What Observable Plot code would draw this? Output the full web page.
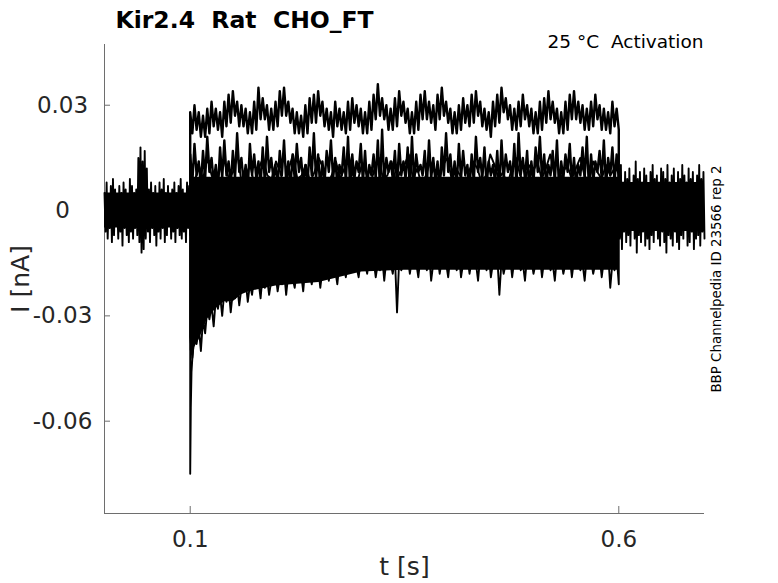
<!DOCTYPE html>
<html>
<head>
<meta charset="utf-8">
<script src="https://cdn.jsdelivr.net/npm/d3@7"></script>
<script src="https://cdn.jsdelivr.net/npm/@observablehq/plot@0.6"></script>
<style>
  html, body { margin: 0; padding: 0; background: #ffffff; }
  #chart { width: 778px; height: 583px; }
</style>
</head>
<body>
<div id="chart"></div>
<script>
// ---------------- Data (currents in pA, converted to nA when plotted) ----------------
const titleText = "Kir2.4  Rat  CHO_FT";
const subtitleText = "25 °C  Activation";
const sideText = "BBP Channelpedia ID 23566 rep 2";
const xLabel = "t [s]";
const yLabel = "I [nA]";

const xDomain = [0, 0.7];
const yDomain = [-0.0863, 0.0473];
const xTickValues = [0.1, 0.6];
const xTickLabels = ["0.1", "0.6"];
const yTickValues = [0.03, 0, -0.03, -0.06];
const yTickLabels = ["0.03", "0", "-0.03", "-0.06"];

const stepStart = 0.1;
const stepEnd = 0.6;
const holdingPA = 0;

// dense core of the overlapping sweeps (upper / lower envelope)
const coreT    = [0, 0.1, 0.1, 0.105, 0.11, 0.115, 0.12, 0.13, 0.14, 0.15, 0.16, 0.17, 0.2, 0.25, 0.3, 0.35, 0.4, 0.5, 0.6, 0.6, 0.7];
const coreHiPA = [5, 5, 9.5, 9.5, 9.5, 9.5, 9.5, 9.5, 9.5, 9.5, 9.5, 9.5, 9.5, 9.5, 9.5, 9.5, 9.5, 9.5, 9.5, 8, 8];
const coreLoPA = [-5, -5, -40, -39, -37, -34, -31, -28, -26, -26, -24, -23, -21.5, -20.5, -17.5, -17, -17, -17, -17, -6, -6];

// pre-step (0 – 0.1 s): alternating upper / lower noise samples of the baseline sweeps
const preUpperPA = [5,8,4,7,9,6,3,7,5,8,6,4,9,7,5,6,15,18,14,17,12,6,8,5,7,4,8,6,9,5,7,4,6,8,5,7,9,6,4,8,7];
const preLowerPA = [-6,-8,-5,-9,-7,-4,-8,-6,-10,-5,-7,-9,-6,-8,-5,-7,-9,-12,-11,-8,-6,-9,-5,-7,-10,-6,-8,-5,-9,-7,-4,-8,-6,-9,-5,-7,-8,-6,-9,-5,-7];

// step (0.1 – 0.6 s): largest sweep, alternating upper / lower noise samples
const topEvenPA = [28,30,28,27,29,31,29,28,31,33,34,31,30,29,28,31,35,32,30,29,31,34,35,31,29,28,27,30,32,33,34,31,29,28,31,29,28,31,32,30,29,28,31,33,36,32,30,29,32,34,31,29,28,31,33,34,31,30,33,35,31,29,28,30,32,30,33,34,31,29,28,31,33,35,32,30,29,31,33,30,29,28,31,32,34,31,29,28,31,33,34,31,30,29,31,33,30,29,28,31,29];
const topOddPA  = [22,23,21,21,22,24,23,21,24,25,27,24,24,22,22,23,26,26,23,23,24,27,27,25,22,22,21,22,25,25,27,24,23,21,24,23,22,23,25,24,22,22,23,26,27,26,23,23,24,27,25,22,22,23,26,26,25,23,26,27,25,22,22,23,25,24,25,27,24,23,21,24,25,28,26,23,23,24,26,24,22,22,23,25,26,25,22,22,23,26,26,25,23,23,24,26,23,23,22,24,23];

// second sweep
const highEvenPA = [16,19,14,17,21,15,13,18,20,14,17,22,15,13,19,16,14,18,21,15,13,17,20,14,16,19,15,13,18,22,16,14,17,20,15,13,18,21,16,14,19,17,13,16,20,23,15,14,17,19,14,18,21,16,13,17,20,15,14,18,22,16,14,19,17,13,16,21,15,18,14,13,17,20,16,14,19,22,15,17,14,18,21,16,13,17,20,14,16,19,15,13,18,21,16,14,17,20,15,18,16];
const highOddPA  = [8,10,7,9,11,8,6,9,10,7,9,11,8,6,10,9,7,8,11,9,7,10,8,6,9,11,8,7,10,9,6,8,11,9,7,10,8,6,9,11,8,7,10,9,6,8,11,9,7,10,9,6,8,11,10,7,9,8,6,10,11,8,7,9,10,6,8,11,9,7,10,8,6,9,11,8,7,10,9,6,8,11,9,7,10,8,6,9,11,8,7,10,9,6,8,11,9,7,10,8,9];

// third sweep (near the top of the dense core)
const sweepMidPA = [11,8,13,9,15,10,7,12,14,9,11,16,8,10,13,7,12,15,10,9,14,11,6,12,16,9,10,13,8,11,15,12,7,10,14,9,12,16,10,8,13,11,7,12,15,9,10,14,8,11,13,16,9,12,7,10,14,11,8,13,15,9,12,10,6,11,14,12,8,10,16,13,9,11,7,12,15,10,8,13,11,14,9,12,16,10,7,11,13,9,12,15,10,8,14,11,9,13,10,12,11];

// most inward sweep: upper / lower noise samples
const lowEvenPA = [-36,-35,-33,-31,-28,-27,-25,-24,-23,-22,-23,
  -21,-22,-20,-21,-19,-20,-18,-19,-20,-18,
  -19,-17,-18,-19,-17,-18,-16,-18,-17,-16,
  -17,-15,-16,-17,-15,-16,-14,-15,-16,-14,
  -15,-13,-14,-15,-13,-14,-15,-13,-14,-15,
  -13,-14,-15,-13,-14,-12,-15,-13,-14,-15,
  -13,-14,-12,-15,-13,-14,-15,-13,-14,-12,
  -15,-13,-14,-15,-13,-14,-12,-15,-13,-14,
  -15,-13,-14,-12,-15,-13,-14,-15,-13,-14,
  -12,-15,-13,-14,-15,-13,-14,-12,-15,-13];
const lowOddPA = [-42,-38,-40,-35,-31,-33,-28,-30,-26,-29,-25,
  -27,-23,-26,-24,-21,-25,-22,-24,-20,-23,
  -21,-24,-19,-22,-20,-23,-18,-21,-19,-22,
  -17,-20,-18,-21,-16,-19,-17,-15,-19,-16,
  -18,-15,-19,-17,-20,-16,-18,-29,-17,-15,
  -18,-16,-19,-14,-17,-20,-15,-18,-16,-19,
  -14,-17,-19,-15,-18,-16,-20,-14,-17,-19,
  -15,-24,-18,-16,-19,-14,-17,-20,-15,-18,
  -16,-19,-14,-17,-20,-15,-18,-16,-19,-14,
  -17,-20,-16,-18,-15,-19,-16,-22,-17,-21];

// capacitive transient at step onset
const transientT  = [0.0995, 0.1, 0.1, 0.1007, 0.1015, 0.1025, 0.104];
const transientPA = [0, 0, -75, -56, -46, -42, -38];

// post-step (0.6 – 0.7 s): alternating upper / lower noise samples
const postUpperPA = [10,13,8,11,9,12,7,10,14,9,11,8,12,10,7,11,13,9,10,8,12,11,9,13,8,10,12,7,11,9,13,10,8,12,9,11,7,10,13,9,11];
const postLowerPA = [-8,-11,-6,-9,-7,-10,-5,-8,-12,-7,-9,-6,-10,-8,-11,-7,-9,-5,-8,-10,-6,-9,-12,-7,-8,-10,-6,-9,-11,-7,-8,-5,-10,-9,-6,-11,-8,-7,-10,-6,-8];

// ---------------- Build tables ----------------
const toNA = v => v / 1000;
function interleave(a, b) {
  const out = [];
  const n = Math.max(a.length, b.length);
  for (let k = 0; k < n; k++) {
    if (k < a.length) out.push(a[k]);
    if (k < b.length) out.push(b[k]);
  }
  return out;
}
function segment(name, values, t0, t1) {
  const n = values.length;
  return values.map((v, k) => ({trace: name, t: t0 + (t1 - t0) * k / (n - 1), i: toNA(v)}));
}
function stepSweep(name, values) {
  return [
    {trace: name, t: stepStart, i: toNA(holdingPA)},
    ...segment(name, values, stepStart, stepEnd),
    {trace: name, t: stepEnd, i: toNA(holdingPA)}
  ];
}
const upperSweeps = [
  ...stepSweep("top", interleave(topEvenPA, topOddPA)),
  ...stepSweep("high", interleave(highEvenPA, highOddPA))
];
const otherSweeps = [
  ...segment("pre", interleave(preUpperPA, preLowerPA), 0, stepStart),
  ...stepSweep("mid", sweepMidPA),
  ...stepSweep("low", interleave(lowEvenPA, lowOddPA)),
  ...transientT.map((t, k) => ({trace: "transient", t, i: toNA(transientPA[k])})),
  ...segment("post", interleave(postUpperPA, postLowerPA), stepEnd, xDomain[1])
];
const core = coreT.map((t, k) => ({t, lo: toNA(coreLoPA[k]), hi: toNA(coreHiPA[k])}));

// ---------------- Plot ----------------
const W = 778, H = 583;
const mL = 104, mR = 74, mT = 44, mB = 70;
const innerW = W - mL - mR, innerH = H - mT - mB;
const axisColor = "#6e6e6e";
const textColor = "#262626";
const tickLen = 7;

const chart = Plot.plot({
  width: W,
  height: H,
  marginLeft: mL,
  marginRight: mR,
  marginTop: mT,
  marginBottom: mB,
  style: {fontFamily: "'DejaVu Sans', sans-serif", background: "#ffffff", overflow: "visible"},
  x: {domain: xDomain, axis: null},
  y: {domain: yDomain, axis: null},
  marks: [
    // axis lines
    Plot.ruleX([xDomain[0]], {stroke: axisColor, strokeWidth: 1}),
    Plot.ruleY([yDomain[0]], {stroke: axisColor, strokeWidth: 1}),
    // inward ticks
    Plot.ruleX(xTickValues, {stroke: axisColor, insetTop: innerH - tickLen}),
    Plot.ruleY(yTickValues, {stroke: axisColor, insetRight: innerW - tickLen + 1}),
    // data
    Plot.areaY(core, {x: "t", y1: "lo", y2: "hi", fill: "#000000"}),
    Plot.line(otherSweeps, {x: "t", y: "i", z: "trace", stroke: "#000000", strokeWidth: 1.9}),
    Plot.line(upperSweeps, {x: "t", y: "i", z: "trace", stroke: "#000000", strokeWidth: 2.4}),
    // tick labels
    Plot.text(xTickValues, {x: d => d, text: (d, k) => xTickLabels[k], frameAnchor: "bottom", dy: 33, lineAnchor: "bottom", fontSize: 23, fill: textColor}),
    Plot.text(yTickValues, {y: d => d, text: (d, k) => yTickLabels[k], frameAnchor: "left", dx: -42, textAnchor: "middle", fontSize: 23, fill: textColor}),
    // axis labels
    Plot.text([xLabel], {frameAnchor: "bottom", dy: 61, lineAnchor: "bottom", fontSize: 25, fill: textColor}),
    Plot.text([yLabel], {frameAnchor: "left", dx: -84, rotate: -90, textAnchor: "middle", fontSize: 25, fill: textColor}),
    // title, subtitle, side note
    Plot.text([titleText], {frameAnchor: "top-left", dx: 11, dy: -17, lineAnchor: "bottom", textAnchor: "start", fontSize: 23.5, fontWeight: "bold", fill: "#000000"}),
    Plot.text([subtitleText], {frameAnchor: "top-right", dx: -1, dy: 3, lineAnchor: "bottom", textAnchor: "end", fontSize: 18.5, fill: "#000000"}),
    Plot.text([sideText], {frameAnchor: "right", dx: 12, rotate: -90, textAnchor: "middle", fontSize: 13.4, fill: "#000000"})
  ]
});
document.getElementById("chart").appendChild(chart);
</script>
</body>
</html>
